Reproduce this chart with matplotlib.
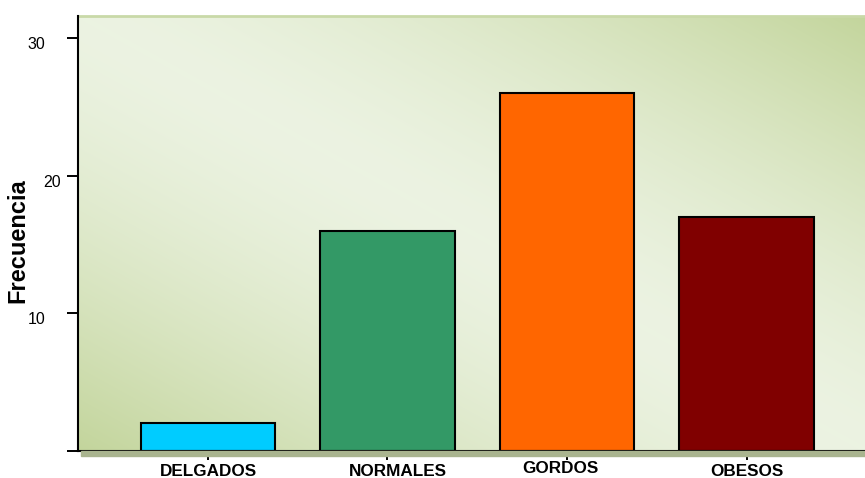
import matplotlib
matplotlib.use("Agg")
import matplotlib.pyplot as plt
import matplotlib.transforms as mtransforms
from matplotlib.patches import Rectangle
import numpy as np

plt.rcParams['font.family'] = ['Liberation Sans', 'DejaVu Sans']

categorias = ["DELGADOS", "NORMALES", "GORDOS", "OBESOS"]
frecuencias = [2, 16, 26, 17]
colores = ["#00ccff", "#339966", "#ff6600", "#800000"]
yticks = [0, 10, 20, 30]
ytick_labels = ["", "10", "20", "30"]

fig = plt.figure(figsize=(8.65, 4.78), dpi=100)
ax = fig.add_axes([78 / 865, 27.5 / 478, 787 / 865, 434.5 / 478])

# fondo degradado: claro en la diagonal, verde en las esquinas
u = np.linspace(0, 1, 400)[None, :]
v = np.linspace(0, 1, 300)[:, None]
t = np.clip(np.abs(u - v), 0, 1) ** 1.5
claro = np.array([0.925, 0.953, 0.886])
oscuro = np.array([0.765, 0.835, 0.612])
img = claro[None, None, :] * (1 - t[..., None]) + oscuro[None, None, :] * t[..., None]
ax.imshow(img, extent=[0, 1, 0, 1], transform=ax.transAxes, aspect='auto',
          origin='upper', zorder=0, interpolation='bilinear')

x = np.arange(len(categorias))
ax.bar(x, frecuencias, width=0.75, color=colores, edgecolor='black',
       linewidth=1.5, zorder=3)

ax.set_xlim(-0.724, 3.66)
ax.set_ylim(0, 31.6)

ax.set_xticks(x)
ax.set_xticklabels(categorias, fontsize=12.3, fontweight='bold')
ax.set_yticks(yticks)
ax.set_yticklabels(ytick_labels, fontsize=11.5)
ax.tick_params(axis='x', length=6.5, width=1.4, pad=3.2, direction='out')
ax.tick_params(axis='y', length=8, width=1.4, pad=6, direction='out')

for s in ['left', 'bottom']:
    ax.spines[s].set_linewidth(1.5)
    ax.spines[s].set_color('black')
    ax.spines[s].set_zorder(4)
ax.spines['right'].set_visible(False)
ax.spines['top'].set_color('#c9d9a8')
ax.spines['top'].set_linewidth(2)

# desplazamientos de las etiquetas de los ejes (en píxeles)
desp_y = {"10": (-13, -5), "20": (2, -5), "30": (-13, -5)}
desp_x = {"NORMALES": (10, 0), "GORDOS": (-6.5, 2.5)}
for lab in ax.get_yticklabels():
    dx, dy = desp_y.get(lab.get_text(), (0, 0))
    off = mtransforms.ScaledTranslation(dx / 100, dy / 100, fig.dpi_scale_trans)
    lab.set_transform(lab.get_transform() + off)
for lab in ax.get_xticklabels():
    dx, dy = desp_x.get(lab.get_text(), (0, 0))
    off = mtransforms.ScaledTranslation(dx / 100, dy / 100, fig.dpi_scale_trans)
    lab.set_transform(lab.get_transform() + off)

# sombra bajo el eje x
fig.patches.append(Rectangle((81 / 865, (478 - 456) / 478), 1, 5 / 478,
                             transform=fig.transFigure, color='#a9b48f',
                             zorder=1))

fig.text(18 / 865, (478 - 240.5) / 478, "Frecuencia", rotation=90,
         ha='center', va='center', fontsize=17, fontweight='bold')

fig.savefig("out.png", dpi=100)
